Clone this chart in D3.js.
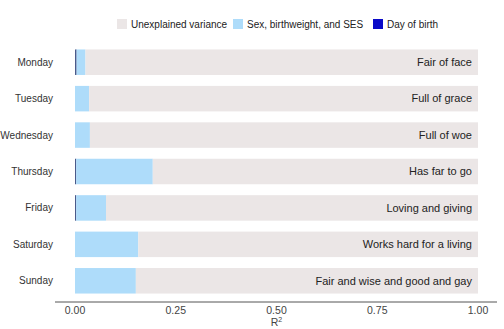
<!DOCTYPE html>
<html><head><meta charset="utf-8">
<script src="https://cdn.jsdelivr.net/npm/d3@7"></script>
<style>body{margin:0;background:#fff}svg{display:block;font-family:"Liberation Sans",Arial,sans-serif}</style>
</head><body><svg id="c" width="504" height="329"></svg>
<script>
const days = ["Monday","Tuesday","Wednesday","Thursday","Friday","Saturday","Sunday"];
const rhymes = ["Fair of face","Full of grace","Full of woe","Has far to go","Loving and giving","Works hard for a living","Fair and wise and good and gay"];
const dayOfBirth = [0.004,0.0,0.0,0.003,0.003,0.0,0.0];
const sesValues = [0.022,0.035,0.037,0.190,0.074,0.157,0.151];
const seriesNames = ["Unexplained variance","Sex, birthweight, and SES","Day of birth"];
const seriesColors = ["#ebe6e6","#aedcfa","#0a0ac8"];
const xTicks = [0,0.25,0.5,0.75,1];

const svg = d3.select("#c");
const x = d3.scaleLinear().domain([0,1]).range([75,478]);
const y = d3.scaleBand().domain(days).range([44,299]).paddingInner(0.3).paddingOuter(0.15);

const rows = days.map((d,i)=>({day:d, dob:dayOfBirth[i], ses:sesValues[i], rhyme:rhymes[i]}));
const g = svg.append("g");
rows.forEach(r=>{
  const segs = [
    {x0:0, x1:r.dob, c:"#4a5a8a"},
    {x0:r.dob, x1:r.dob+r.ses, c:seriesColors[1]},
    {x0:r.dob+r.ses, x1:1, c:seriesColors[0]}
  ];
  segs.forEach(s=>{
    if(s.x1<=s.x0) return;
    g.append("rect").attr("x",x(s.x0)).attr("y",y(r.day))
      .attr("width",Math.max(x(s.x1)-x(s.x0),1.2)).attr("height",y.bandwidth()).attr("fill",s.c);
  });
  g.append("text").attr("x",x(1)-6).attr("y",y(r.day)+y.bandwidth()/2).attr("dy","0.35em")
    .attr("text-anchor","end").attr("font-size",11).attr("fill","#222").text(r.rhyme);
  g.append("text").attr("x",53).attr("y",y(r.day)+y.bandwidth()/2).attr("dy","0.35em")
    .attr("text-anchor","end").attr("font-size",10).attr("fill","#333").text(r.day);
});

// x axis
const ax = svg.append("g").attr("transform","translate(0,302)");
ax.append("line").attr("x1",55).attr("x2",497).attr("stroke","#555").attr("stroke-width",1);
ax.selectAll("text").data(xTicks).join("text").attr("x",d=>x(d)).attr("y",12)
  .attr("text-anchor","middle").attr("font-size",10.5).attr("fill","#444").text(d=>d3.format(".2f")(d));
const t = svg.append("text").attr("x",x(0.5)).attr("y",326).attr("text-anchor","middle").attr("font-size",10.5).attr("fill","#444");
t.append("tspan").text("R");
t.append("tspan").attr("font-size",7).attr("dy",-4).text("2");

// legend
const leg = [{n:seriesNames[0],c:seriesColors[0],x:117},{n:seriesNames[1],c:seriesColors[1],x:233},{n:seriesNames[2],c:seriesColors[2],x:373}];
leg.forEach(l=>{
  svg.append("rect").attr("x",l.x).attr("y",19).attr("width",10).attr("height",10).attr("fill",l.c);
  svg.append("text").attr("x",l.x+14).attr("y",24).attr("dy","0.35em").attr("font-size",10).attr("fill","#222").text(l.n);
});
</script></body></html>
